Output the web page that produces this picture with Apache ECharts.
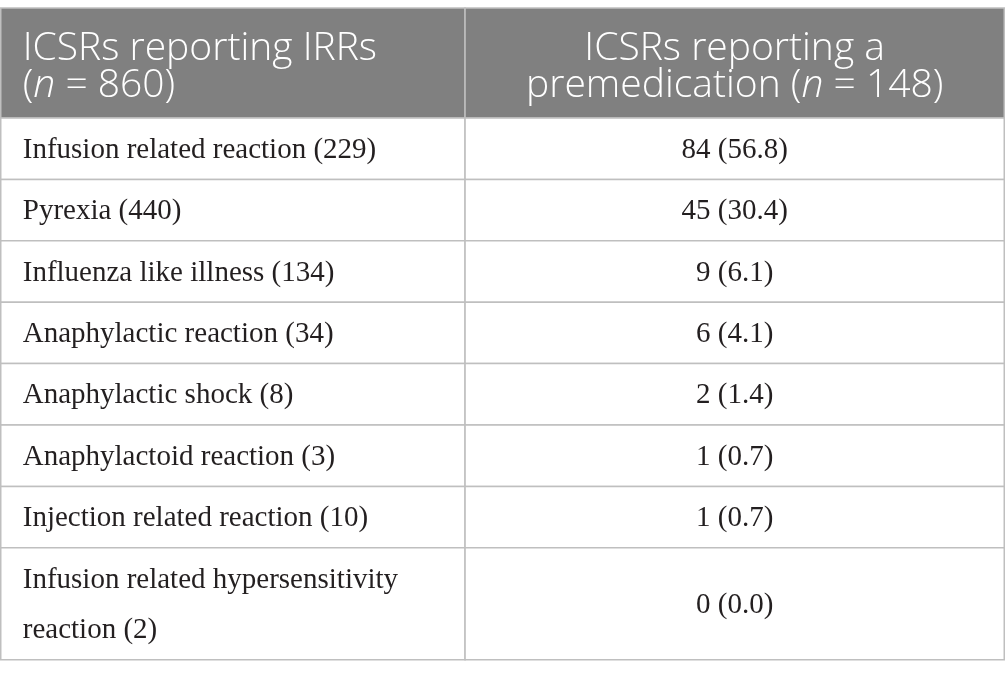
<!DOCTYPE html>
<html>
<head>
<meta charset="utf-8">
<script src="https://cdn.jsdelivr.net/npm/echarts@6/dist/echarts.min.js"></script>
<style>
  html, body { margin: 0; padding: 0; background: #fff; }
  #main { width: 1005px; height: 678px; }
</style>
</head>
<body>
<div id="main"></div>
<script>
// 表头
const headerText = ['ICSRs reporting IRRs\n(n = 860)', 'ICSRs reporting a\npremedication (n = 148)']
// 第一列：不良反应 (病例数)
const reactions = [
  'Infusion related reaction (229)',
  'Pyrexia (440)',
  'Influenza like illness (134)',
  'Anaphylactic reaction (34)',
  'Anaphylactic shock (8)',
  'Anaphylactoid reaction (3)',
  'Injection related reaction (10)',
  'Infusion related hypersensitivity\nreaction (2)'
]
// 第二列：预用药病例数及百分比
const premedCounts = [84, 45, 9, 6, 2, 1, 1, 0]
const premedPct = [56.8, 30.4, 6.1, 4.1, 1.4, 0.7, 0.7, 0.0]

// 布局
const colEdges = [0, 465, 1005]
const headerH = 110
const lineH = 50.6
const rowPad = 10.8
const rowEdges = [0, headerH]
reactions.forEach(r => {
  const lines = r.split('\n').length
  rowEdges.push(rowEdges[rowEdges.length - 1] + rowPad + lines * lineH)
})
const total = rowEdges[rowEdges.length - 1]

const cells = []
for (let r = 0; r <= reactions.length; r++) {
  cells.push([0, r])
  cells.push([1, r])
}

const cellText = (col, row) => {
  if (row === 0) return headerText[col].replace('(n =', '({i|n} =')
  if (col === 0) return reactions[row - 1]
  return `${premedCounts[row - 1]} (${premedPct[row - 1].toFixed(1)})`
}

const renderItem = (params, api) => {
  const col = api.value(0)
  const row = api.value(1)
  const p0 = api.coord([colEdges[col], rowEdges[row]])
  const p1 = api.coord([colEdges[col + 1], rowEdges[row + 1]])
  const isHead = row === 0
  const tx = col === 0 ? p0[0] + 22 : (p0[0] + p1[0]) / 2
  const ty = (p0[1] + p1[1]) / 2
  const font = isHead
    ? { fontFamily: 'Open Sans', fontWeight: 300, fontSize: 39, lineHeight: 37, fill: '#ffffff' }
    : { fontFamily: 'Liberation Serif', fontSize: 29, lineHeight: 50, fill: '#231f20' }
  return {
    type: 'group',
    children: [
      {
        type: 'rect',
        shape: { x: p0[0], y: p0[1], width: p1[0] - p0[0], height: p1[1] - p0[1] },
        style: { fill: isHead ? '#808080' : '#ffffff', stroke: '#bfbfbf', lineWidth: 1.5 }
      },
      {
        type: 'text',
        x: tx,
        y: ty + (isHead ? 4.5 : 1.5),
        style: {
          text: cellText(col, row),
          align: col === 0 ? 'left' : 'center',
          verticalAlign: 'middle',
          ...font,
          rich: {
            i: { ...font, fontStyle: 'italic' }
          }
        }
      }
    ]
  }
}

const option = {
  animation: false,
  grid: { left: 0.75, right: 0.75, top: 8, bottom: 678 - 8 - total },
  xAxis: { type: 'value', min: 0, max: colEdges[2], show: false },
  yAxis: { type: 'value', min: 0, max: total, inverse: true, show: false },
  series: [{
    type: 'custom',
    coordinateSystem: 'cartesian2d',
    clip: false,
    renderItem,
    data: cells
  }]
}

const chart = echarts.init(document.getElementById('main'))
chart.setOption(option)
</script>
</body>
</html>
